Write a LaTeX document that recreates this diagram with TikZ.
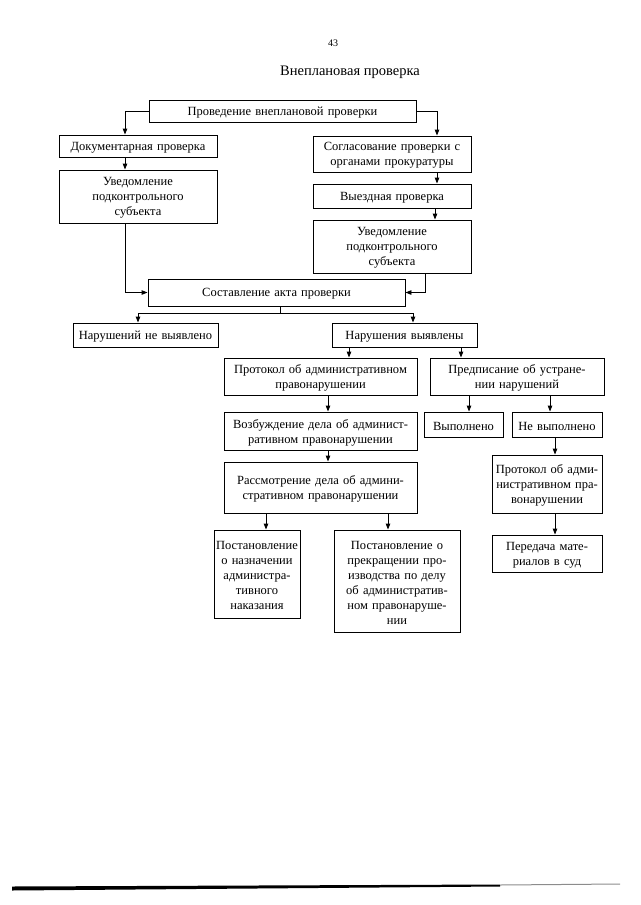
\documentclass[tikz,border=0pt]{standalone}
\usepackage{fontspec}
\setmainfont{Liberation Serif}
\usetikzlibrary{arrows.meta}
\tikzset{
  frame/.style={draw, line width=0.9pt, inner sep=0pt},
  boxtext/.style={inner sep=0pt, align=center, font=\fontsize{12.5}{15}\selectfont},
  arr/.style={line width=0.9pt, -{Triangle[length=6pt,width=4.5pt]}},
  ln/.style={line width=0.9pt}
}
\newcommand\mkbox[6]{%
  \pgfmathsetmacro\bw{#4-#2}\pgfmathsetmacro\bh{#5-#3}%
  \pgfmathsetmacro\bcx{(#2+#4)/2}\pgfmathsetmacro\bcy{(#3+#5)/2}%
  \pgfmathsetmacro\btw{#4-#2-4}%
  \node[frame, minimum width=\bw pt, minimum height=\bh pt] (#1) at (\bcx,\bcy) {};
  \node[boxtext, text width=\btw pt, yshift=-1.5pt] (#1-t) at (#1.center) {#6};}
\begin{document}
\begin{tikzpicture}[x=1pt,y=-1pt]
\useasboundingbox (0,0) rectangle (640,905);
\node[font=\fontsize{10}{12}\selectfont] (pg) at (333,43) {43};
\node[font=\fontsize{14.5}{17}\selectfont] (title) at (350,72) {Внеплановая проверка};

\mkbox{A}{149}{100}{416}{122}{Проведение внеплановой проверки}
\mkbox{B}{59}{135}{217}{157}{Документарная проверка}
\mkbox{C}{59}{170}{217}{223}{Уведомление\\подконтрольного\\субъекта}
\mkbox{D}{313}{136}{471}{172}{Согласование проверки с\\органами прокуратуры}
\mkbox{E}{313}{184}{471}{208}{Выездная проверка}
\mkbox{F}{313}{220}{471}{273}{Уведомление\\подконтрольного\\субъекта}
\mkbox{G}{148}{279}{405}{306}{Составление акта проверки}
\mkbox{H}{73}{323}{218}{347}{Нарушений не выявлено}
\mkbox{I}{332}{323}{477}{347}{Нарушения выявлены}
\mkbox{J}{224}{358}{417}{395}{Протокол об административном\\правонарушении}
\mkbox{K}{430}{358}{604}{395}{Предписание об устране-\\нии нарушений}
\mkbox{L}{224}{412}{417}{450}{Возбуждение дела об админист-\\ративном правонарушении}
\mkbox{M}{224}{462}{417}{513}{Рассмотрение дела об админи-\\стративном правонарушении\\[14pt]}
\mkbox{N}{424}{412}{503}{437}{Выполнено}
\mkbox{O}{512}{412}{602}{437}{Не выполнено}
\mkbox{P}{492}{455}{602}{513}{Протокол об адми-\\нистративном пра-\\вонарушении}
\mkbox{Q}{492}{535}{602}{572}{Передача мате-\\риалов в суд}
\mkbox{R}{214}{530}{300}{618}{Постановление\\о назначении\\администра-\\тивного\\наказания}
\mkbox{S}{334}{530}{460}{632}{Постановление о\\прекращении про-\\изводства по делу\\об административ-\\ном правонаруше-\\нии}

% connectors
\coordinate (c1) at (125,111);
\coordinate (c2) at (437,111);
\draw[arr] (A.west) -- (c1) -- (c1 |- B.north);
\draw[arr] (A.east) -- (c2) -- (c2 |- D.north);
\draw[arr] (c1 |- B.south) -- (c1 |- C.north);
\draw[arr] (c1 |- C.south) |- (G.west);
\draw[arr] (c2 |- D.south) -- (c2 |- E.north);
\coordinate (c3) at (435,0);
\draw[arr] (c3 |- E.south) -- (c3 |- F.north);
\coordinate (c4) at (425,0);
\draw[arr] (c4 |- F.south) |- (G.east);

\coordinate (g1) at (280,313);
\coordinate (h1) at (138,313);
\coordinate (i1) at (413,313);
\draw[ln] (g1 |- G.south) -- (g1);
\draw[arr] (g1) -- (h1) -- (h1 |- H.north);
\draw[arr] (g1) -- (i1) -- (i1 |- I.north);

\coordinate (j1) at (349,0);
\coordinate (k1) at (461,0);
\draw[arr] (j1 |- I.south) -- (j1 |- J.north);
\draw[arr] (k1 |- I.south) -- (k1 |- K.north);

\coordinate (l1) at (328,0);
\draw[arr] (l1 |- J.south) -- (l1 |- L.north);
\draw[arr] (l1 |- L.south) -- (l1 |- M.north);

\coordinate (n1) at (469,0);
\coordinate (o1) at (550,0);
\draw[arr] (n1 |- K.south) -- (n1 |- N.north);
\draw[arr] (o1 |- K.south) -- (o1 |- O.north);

\coordinate (p1) at (555,0);
\draw[arr] (p1 |- O.south) -- (p1 |- P.north);
\draw[arr] (p1 |- P.south) -- (p1 |- Q.north);

\coordinate (r1) at (266,0);
\coordinate (s1) at (388,0);
\draw[arr] (r1 |- M.south) -- (r1 |- R.north);
\draw[arr] (s1 |- M.south) -- (s1 |- S.north);

% scan edge at the bottom
\fill (12,886.5) -- (500,884.5) -- (500,886.5) -- (12,890.5) -- cycle;
\fill[black!45] (500,884.5) -- (620,883.5) -- (620,884.5) -- (500,885.5) -- cycle;
\end{tikzpicture}
\end{document}
